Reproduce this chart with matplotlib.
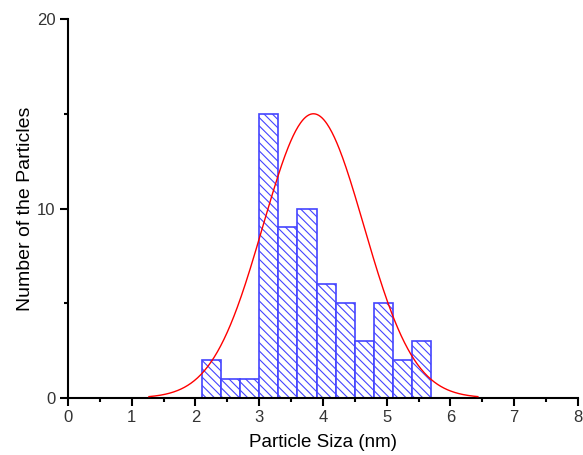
import numpy as np
import matplotlib
matplotlib.use("Agg")
import matplotlib.pyplot as plt
from matplotlib.ticker import MultipleLocator

plt.rcParams['font.family'] = ['Liberation Sans', 'DejaVu Sans']
plt.rcParams['hatch.linewidth'] = 0.8
plt.rcParams['hatch.color'] = '#3333ff'

# histogram bins (nm) and counts
bin_left = [2.1, 2.4, 2.7, 3.0, 3.3, 3.6, 3.9, 4.2, 4.5, 4.8, 5.1, 5.4]
counts = [2, 1, 1, 15, 9, 10, 6, 5, 3, 5, 2, 3]
bin_width = 0.3

# gaussian fit parameters
fit_amp = 15.0
fit_center = 3.85
fit_sigma = 0.79
fit_range = (1.27, 6.43)


def main():
    fig = plt.figure(figsize=(5.83, 4.55), dpi=100)
    ax = fig.add_axes([0.1166, 0.1253, 0.8748, 0.8329])

    ax.bar(bin_left, counts, width=bin_width, align="edge", color="white",
           edgecolor="#4444ff", linewidth=1.2, hatch="\\\\\\\\", zorder=2)

    x = np.linspace(fit_range[0], fit_range[1], 400)
    y = fit_amp * np.exp(-(x - fit_center) ** 2 / (2 * fit_sigma ** 2))
    ax.plot(x, y, color="red", linewidth=1.0, zorder=3)

    ax.set_xlim(0, 8)
    ax.set_ylim(0, 20)
    ax.xaxis.set_major_locator(MultipleLocator(1))
    ax.xaxis.set_minor_locator(MultipleLocator(0.5))
    ax.yaxis.set_major_locator(MultipleLocator(10))
    ax.yaxis.set_minor_locator(MultipleLocator(5))
    ax.tick_params(which="major", direction="out", length=6, width=1.5,
                   labelsize=12, labelcolor="#333333", pad=3)
    ax.tick_params(which="minor", direction="out", length=3, width=1.5)

    for s in ["top", "right"]:
        ax.spines[s].set_visible(False)
    for s in ["left", "bottom"]:
        ax.spines[s].set_linewidth(1.5)

    ax.set_xlabel("Particle Siza (nm)", fontsize=13.5, labelpad=6)
    ax.set_ylabel("Number of the Particles", fontsize=14, labelpad=2)

    fig.savefig("out.png", dpi=100)


if __name__ == "__main__":
    main()
